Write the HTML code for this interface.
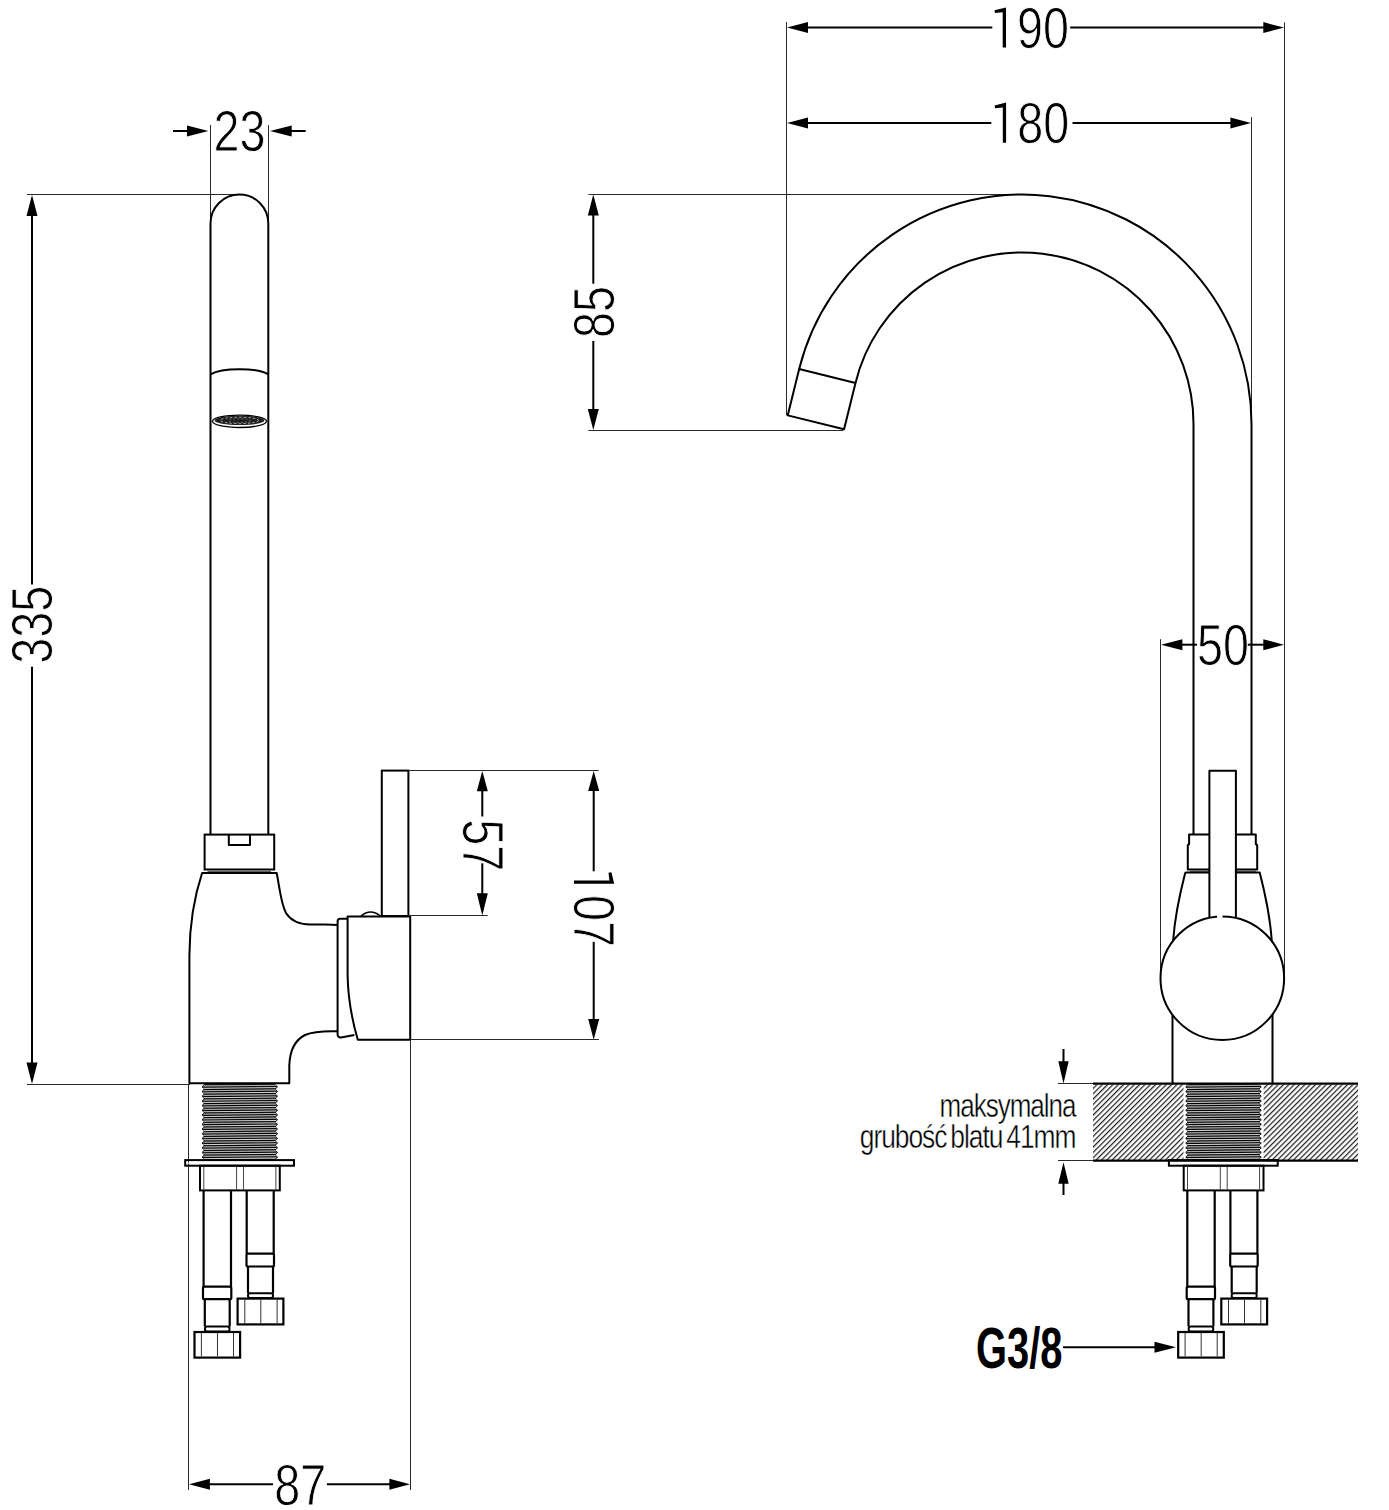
<!DOCTYPE html>
<html><head><meta charset="utf-8"><title>faucet</title>
<style>html,body{margin:0;padding:0;background:#fff;} svg{display:block;} text{font-family:"Liberation Sans", sans-serif;}</style>
</head><body>
<svg width="1389" height="1510" viewBox="0 0 1389 1510">
<rect width="1389" height="1510" fill="#fff"/>
<line x1="27.00" y1="194.50" x2="240.00" y2="194.50" stroke="#2a2a2a" stroke-width="1" />
<line x1="27.00" y1="1084.50" x2="190.00" y2="1084.50" stroke="#2a2a2a" stroke-width="1" />
<line x1="32.00" y1="215.00" x2="32.00" y2="584.60" stroke="#000" stroke-width="2" />
<line x1="32.00" y1="666.80" x2="32.00" y2="1063.00" stroke="#000" stroke-width="2" />
<path d="M32.00,195.00 L37.50,216.00 L26.50,216.00 Z" fill="#000"/>
<path d="M32.00,1084.00 L26.50,1062.50 L37.50,1062.50 Z" fill="#000"/>
<text transform="translate(52.00,624.75) rotate(-90) scale(0.82,1)" text-anchor="middle" font-size="57" font-weight="normal" stroke="#fff" stroke-width="0.9">335</text>
<line x1="210.50" y1="125.00" x2="210.50" y2="223.00" stroke="#2a2a2a" stroke-width="1" />
<line x1="268.50" y1="125.00" x2="268.50" y2="223.00" stroke="#2a2a2a" stroke-width="1" />
<line x1="173.00" y1="131.00" x2="190.00" y2="131.00" stroke="#000" stroke-width="2" />
<path d="M208.40,131.00 L187.00,136.50 L187.00,125.50 Z" fill="#000"/>
<line x1="290.00" y1="131.00" x2="305.70" y2="131.00" stroke="#000" stroke-width="2" />
<path d="M270.00,131.00 L291.70,125.50 L291.70,136.50 Z" fill="#000"/>
<text transform="translate(239.50,150.70) scale(0.82,1)" text-anchor="middle" font-size="57" font-weight="normal" stroke="#fff" stroke-width="0.9">23</text>
<path d="M210.5,835 V223.4 A28.9,28.9 0 0 1 268.3,223.4 V835" fill="none" stroke="#000" stroke-width="2" stroke-linejoin="round" />
<path d="M210.5,374.3 C222,367.4 257,367.4 268.3,374.3" fill="none" stroke="#000" stroke-width="2" stroke-linejoin="round" />
<ellipse cx="239.5" cy="421.3" rx="27" ry="6.2" fill="#fff" stroke="#000" stroke-width="1.3"/>
<ellipse cx="239.5" cy="420.4" rx="24.8" ry="4.7" fill="#1e1e1e" stroke="none"/>
<ellipse cx="239.5" cy="420.4" rx="19" ry="3.2" fill="none" stroke="#fff" stroke-width="0.6" stroke-dasharray="2.5 2"/>
<ellipse cx="239.5" cy="420.6" rx="11" ry="1.9" fill="none" stroke="#999" stroke-width="0.6" stroke-dasharray="2 2"/>
<rect x="204.60" y="834.60" width="69.60" height="34.90" rx="0" fill="none" stroke="#000" stroke-width="2"/>
<path d="M228.8,835 V845 H250 V835" fill="none" stroke="#000" stroke-width="2" stroke-linejoin="round" />
<line x1="207.50" y1="871.40" x2="271.00" y2="871.40" stroke="#000" stroke-width="0.7" />
<line x1="206.00" y1="869.40" x2="272.50" y2="869.40" stroke="#000" stroke-width="0.01" />
<path d="M337,925 C330,924 322,924.7 310,924.5 C298,924.3 291,921 286,913 C281,904 280,890 276.7,873 H202.1 C195.5,893 189.6,922 189.4,955 V1083.3 H289.3 V1065 C290,1050 295,1040 305,1035 C313,1031.5 325,1031 337,1031.3" fill="none" stroke="#000" stroke-width="2" stroke-linejoin="round" />
<path d="M347,918.7 H340 Q337.6,918.7 337.6,921.5 V1034.5 Q337.6,1037.6 341,1037.4 L354.4,1035" fill="none" stroke="#000" stroke-width="2" stroke-linejoin="round" />
<path d="M347.6,916.4 H410.2 V1039.8 H357.8 C352,1020 348,1000 347.6,975 Z" fill="none" stroke="#000" stroke-width="2" stroke-linejoin="round" />
<path d="M361,916 Q370.5,908 380.4,916" fill="none" stroke="#000" stroke-width="1.5" stroke-linejoin="round" />
<rect x="381.80" y="770.60" width="26.60" height="145.40" rx="0" fill="none" stroke="#000" stroke-width="2"/>
<line x1="408.40" y1="770.50" x2="598.70" y2="770.50" stroke="#2a2a2a" stroke-width="1" />
<line x1="408.40" y1="915.50" x2="487.60" y2="915.50" stroke="#2a2a2a" stroke-width="1" />
<line x1="410.20" y1="1039.50" x2="599.00" y2="1039.50" stroke="#2a2a2a" stroke-width="1" />
<line x1="482.30" y1="790.00" x2="482.30" y2="816.50" stroke="#000" stroke-width="2" />
<line x1="482.30" y1="863.30" x2="482.30" y2="894.00" stroke="#000" stroke-width="2" />
<path d="M482.30,771.00 L487.80,791.20 L476.80,791.20 Z" fill="#000"/>
<path d="M482.30,915.50 L476.80,893.20 L487.80,893.20 Z" fill="#000"/>
<text transform="translate(462.70,845.20) rotate(90) scale(0.82,1)" text-anchor="middle" font-size="57" font-weight="normal" stroke="#fff" stroke-width="0.9">57</text>
<line x1="593.70" y1="790.00" x2="593.70" y2="871.30" stroke="#000" stroke-width="2" />
<line x1="593.70" y1="941.80" x2="593.70" y2="1020.00" stroke="#000" stroke-width="2" />
<path d="M593.70,771.00 L599.20,791.00 L588.20,791.00 Z" fill="#000"/>
<path d="M593.70,1039.80 L588.20,1019.00 L599.20,1019.00 Z" fill="#000"/>
<g transform="translate(574.00,872.30) rotate(90)"><path d="M0,-37.4 L11.5,-40.2 V0 H8.2 V-35.4 L0.5,-34.5 Z" fill="#000"/><text transform="translate(22.6,0) scale(0.82,1)" font-size="57" stroke="#fff" stroke-width="0.9">07</text></g>
<line x1="188.50" y1="1084.00" x2="188.50" y2="1490.00" stroke="#2a2a2a" stroke-width="1" />
<line x1="410.50" y1="1039.80" x2="410.50" y2="1490.00" stroke="#2a2a2a" stroke-width="1" />
<line x1="208.00" y1="1484.30" x2="273.00" y2="1484.30" stroke="#000" stroke-width="2" />
<line x1="326.90" y1="1484.30" x2="391.00" y2="1484.30" stroke="#000" stroke-width="2" />
<path d="M189.00,1484.30 L209.90,1478.80 L209.90,1489.80 Z" fill="#000"/>
<path d="M410.00,1484.30 L389.40,1489.80 L389.40,1478.80 Z" fill="#000"/>
<text transform="translate(300.25,1504.50) scale(0.82,1)" text-anchor="middle" font-size="57" font-weight="normal" stroke="#fff" stroke-width="0.9">87</text>
<polygon points="204.60,1084.50 202.00,1086.84 204.60,1089.19 202.00,1091.53 204.60,1093.88 202.00,1096.22 204.60,1098.56 202.00,1100.91 204.60,1103.25 202.00,1105.59 204.60,1107.94 202.00,1110.28 204.60,1112.62 202.00,1114.97 204.60,1117.31 202.00,1119.66 204.60,1122.00 202.00,1124.34 204.60,1126.69 202.00,1129.03 204.60,1131.38 202.00,1133.72 204.60,1136.06 202.00,1138.41 204.60,1140.75 202.00,1143.09 204.60,1145.44 202.00,1147.78 204.60,1150.12 202.00,1152.47 204.60,1154.81 202.00,1157.16 204.60,1159.50 275.00,1159.50 277.60,1157.16 275.00,1154.81 277.60,1152.47 275.00,1150.12 277.60,1147.78 275.00,1145.44 277.60,1143.09 275.00,1140.75 277.60,1138.41 275.00,1136.06 277.60,1133.72 275.00,1131.38 277.60,1129.03 275.00,1126.69 277.60,1124.34 275.00,1122.00 277.60,1119.66 275.00,1117.31 277.60,1114.97 275.00,1112.62 277.60,1110.28 275.00,1107.94 277.60,1105.59 275.00,1103.25 277.60,1100.91 275.00,1098.56 277.60,1096.22 275.00,1093.88 277.60,1091.53 275.00,1089.19 277.60,1086.84 275.00,1084.50" fill="#5c5c5c" stroke="#000" stroke-width="0.9"/>
<line x1="203.50" y1="1087.19" x2="276.10" y2="1086.49" stroke="#000" stroke-width="1.15"/>
<line x1="203.50" y1="1088.37" x2="276.10" y2="1087.67" stroke="#f4f4f4" stroke-width="0.8"/>
<line x1="203.50" y1="1086.02" x2="276.10" y2="1085.32" stroke="#d8d8d8" stroke-width="0.7"/>
<line x1="203.50" y1="1091.88" x2="276.10" y2="1091.18" stroke="#000" stroke-width="1.15"/>
<line x1="203.50" y1="1093.05" x2="276.10" y2="1092.35" stroke="#f4f4f4" stroke-width="0.8"/>
<line x1="203.50" y1="1089.54" x2="276.10" y2="1088.84" stroke="#000" stroke-width="1.0"/>
<line x1="203.50" y1="1090.71" x2="276.10" y2="1090.01" stroke="#d8d8d8" stroke-width="0.7"/>
<line x1="203.50" y1="1096.57" x2="276.10" y2="1095.87" stroke="#000" stroke-width="1.15"/>
<line x1="203.50" y1="1097.74" x2="276.10" y2="1097.04" stroke="#f4f4f4" stroke-width="0.8"/>
<line x1="203.50" y1="1094.22" x2="276.10" y2="1093.53" stroke="#000" stroke-width="1.0"/>
<line x1="203.50" y1="1095.40" x2="276.10" y2="1094.70" stroke="#d8d8d8" stroke-width="0.7"/>
<line x1="203.50" y1="1101.26" x2="276.10" y2="1100.56" stroke="#000" stroke-width="1.15"/>
<line x1="203.50" y1="1102.43" x2="276.10" y2="1101.73" stroke="#f4f4f4" stroke-width="0.8"/>
<line x1="203.50" y1="1098.91" x2="276.10" y2="1098.21" stroke="#000" stroke-width="1.0"/>
<line x1="203.50" y1="1100.08" x2="276.10" y2="1099.38" stroke="#d8d8d8" stroke-width="0.7"/>
<line x1="203.50" y1="1105.94" x2="276.10" y2="1105.24" stroke="#000" stroke-width="1.15"/>
<line x1="203.50" y1="1107.12" x2="276.10" y2="1106.42" stroke="#f4f4f4" stroke-width="0.8"/>
<line x1="203.50" y1="1103.60" x2="276.10" y2="1102.90" stroke="#000" stroke-width="1.0"/>
<line x1="203.50" y1="1104.77" x2="276.10" y2="1104.07" stroke="#d8d8d8" stroke-width="0.7"/>
<line x1="203.50" y1="1110.63" x2="276.10" y2="1109.93" stroke="#000" stroke-width="1.15"/>
<line x1="203.50" y1="1111.80" x2="276.10" y2="1111.10" stroke="#f4f4f4" stroke-width="0.8"/>
<line x1="203.50" y1="1108.29" x2="276.10" y2="1107.59" stroke="#000" stroke-width="1.0"/>
<line x1="203.50" y1="1109.46" x2="276.10" y2="1108.76" stroke="#d8d8d8" stroke-width="0.7"/>
<line x1="203.50" y1="1115.32" x2="276.10" y2="1114.62" stroke="#000" stroke-width="1.15"/>
<line x1="203.50" y1="1116.49" x2="276.10" y2="1115.79" stroke="#f4f4f4" stroke-width="0.8"/>
<line x1="203.50" y1="1112.97" x2="276.10" y2="1112.28" stroke="#000" stroke-width="1.0"/>
<line x1="203.50" y1="1114.15" x2="276.10" y2="1113.45" stroke="#d8d8d8" stroke-width="0.7"/>
<line x1="203.50" y1="1120.01" x2="276.10" y2="1119.31" stroke="#000" stroke-width="1.15"/>
<line x1="203.50" y1="1121.18" x2="276.10" y2="1120.48" stroke="#f4f4f4" stroke-width="0.8"/>
<line x1="203.50" y1="1117.66" x2="276.10" y2="1116.96" stroke="#000" stroke-width="1.0"/>
<line x1="203.50" y1="1118.83" x2="276.10" y2="1118.13" stroke="#d8d8d8" stroke-width="0.7"/>
<line x1="203.50" y1="1124.69" x2="276.10" y2="1123.99" stroke="#000" stroke-width="1.15"/>
<line x1="203.50" y1="1125.87" x2="276.10" y2="1125.17" stroke="#f4f4f4" stroke-width="0.8"/>
<line x1="203.50" y1="1122.35" x2="276.10" y2="1121.65" stroke="#000" stroke-width="1.0"/>
<line x1="203.50" y1="1123.52" x2="276.10" y2="1122.82" stroke="#d8d8d8" stroke-width="0.7"/>
<line x1="203.50" y1="1129.38" x2="276.10" y2="1128.68" stroke="#000" stroke-width="1.15"/>
<line x1="203.50" y1="1130.55" x2="276.10" y2="1129.85" stroke="#f4f4f4" stroke-width="0.8"/>
<line x1="203.50" y1="1127.04" x2="276.10" y2="1126.34" stroke="#000" stroke-width="1.0"/>
<line x1="203.50" y1="1128.21" x2="276.10" y2="1127.51" stroke="#d8d8d8" stroke-width="0.7"/>
<line x1="203.50" y1="1134.07" x2="276.10" y2="1133.37" stroke="#000" stroke-width="1.15"/>
<line x1="203.50" y1="1135.24" x2="276.10" y2="1134.54" stroke="#f4f4f4" stroke-width="0.8"/>
<line x1="203.50" y1="1131.72" x2="276.10" y2="1131.03" stroke="#000" stroke-width="1.0"/>
<line x1="203.50" y1="1132.90" x2="276.10" y2="1132.20" stroke="#d8d8d8" stroke-width="0.7"/>
<line x1="203.50" y1="1138.76" x2="276.10" y2="1138.06" stroke="#000" stroke-width="1.15"/>
<line x1="203.50" y1="1139.93" x2="276.10" y2="1139.23" stroke="#f4f4f4" stroke-width="0.8"/>
<line x1="203.50" y1="1136.41" x2="276.10" y2="1135.71" stroke="#000" stroke-width="1.0"/>
<line x1="203.50" y1="1137.58" x2="276.10" y2="1136.88" stroke="#d8d8d8" stroke-width="0.7"/>
<line x1="203.50" y1="1143.44" x2="276.10" y2="1142.74" stroke="#000" stroke-width="1.15"/>
<line x1="203.50" y1="1144.62" x2="276.10" y2="1143.92" stroke="#f4f4f4" stroke-width="0.8"/>
<line x1="203.50" y1="1141.10" x2="276.10" y2="1140.40" stroke="#000" stroke-width="1.0"/>
<line x1="203.50" y1="1142.27" x2="276.10" y2="1141.57" stroke="#d8d8d8" stroke-width="0.7"/>
<line x1="203.50" y1="1148.13" x2="276.10" y2="1147.43" stroke="#000" stroke-width="1.15"/>
<line x1="203.50" y1="1149.30" x2="276.10" y2="1148.60" stroke="#f4f4f4" stroke-width="0.8"/>
<line x1="203.50" y1="1145.79" x2="276.10" y2="1145.09" stroke="#000" stroke-width="1.0"/>
<line x1="203.50" y1="1146.96" x2="276.10" y2="1146.26" stroke="#d8d8d8" stroke-width="0.7"/>
<line x1="203.50" y1="1152.82" x2="276.10" y2="1152.12" stroke="#000" stroke-width="1.15"/>
<line x1="203.50" y1="1153.99" x2="276.10" y2="1153.29" stroke="#f4f4f4" stroke-width="0.8"/>
<line x1="203.50" y1="1150.47" x2="276.10" y2="1149.78" stroke="#000" stroke-width="1.0"/>
<line x1="203.50" y1="1151.65" x2="276.10" y2="1150.95" stroke="#d8d8d8" stroke-width="0.7"/>
<line x1="203.50" y1="1157.51" x2="276.10" y2="1156.81" stroke="#000" stroke-width="1.15"/>
<line x1="203.50" y1="1158.68" x2="276.10" y2="1157.98" stroke="#f4f4f4" stroke-width="0.8"/>
<line x1="203.50" y1="1155.16" x2="276.10" y2="1154.46" stroke="#000" stroke-width="1.0"/>
<line x1="203.50" y1="1156.33" x2="276.10" y2="1155.63" stroke="#d8d8d8" stroke-width="0.7"/>
<rect x="185.20" y="1160.10" width="108.80" height="5.60" rx="0" fill="none" stroke="#000" stroke-width="2"/>
<line x1="187.50" y1="1163.00" x2="291.50" y2="1163.00" stroke="#fff" stroke-width="1.2" />
<rect x="200.00" y="1165.70" width="79.80" height="24.70" rx="0" fill="none" stroke="#000" stroke-width="2"/>
<line x1="203.80" y1="1166.50" x2="203.80" y2="1189.50" stroke="#444" stroke-width="1" />
<line x1="236.60" y1="1166.50" x2="236.60" y2="1189.50" stroke="#444" stroke-width="1" />
<line x1="243.50" y1="1166.50" x2="243.50" y2="1189.50" stroke="#444" stroke-width="1" />
<line x1="275.90" y1="1166.50" x2="275.90" y2="1189.50" stroke="#444" stroke-width="1" />
<line x1="203.60" y1="1190.00" x2="203.60" y2="1287.00" stroke="#000" stroke-width="2.2" />
<line x1="231.00" y1="1190.00" x2="231.00" y2="1287.00" stroke="#000" stroke-width="2.2" />
<rect x="203.00" y="1286.70" width="28.30" height="12.50" rx="1.5" fill="none" stroke="#000" stroke-width="2.2"/>
<line x1="204.80" y1="1299.00" x2="204.80" y2="1326.50" stroke="#000" stroke-width="2.2" />
<line x1="229.70" y1="1299.00" x2="229.70" y2="1326.50" stroke="#000" stroke-width="2.2" />
<rect x="205.00" y="1326.50" width="24.50" height="5.00" rx="2" fill="none" stroke="#000" stroke-width="2"/>
<rect x="194.50" y="1332.00" width="45.60" height="25.60" rx="0" fill="none" stroke="#000" stroke-width="2.2"/>
<line x1="201.40" y1="1333.00" x2="201.40" y2="1356.50" stroke="#333" stroke-width="1" />
<line x1="217.50" y1="1333.00" x2="217.50" y2="1356.50" stroke="#333" stroke-width="1" />
<line x1="233.50" y1="1333.00" x2="233.50" y2="1356.50" stroke="#333" stroke-width="1" />
<line x1="246.70" y1="1190.00" x2="246.70" y2="1254.00" stroke="#000" stroke-width="2.2" />
<line x1="273.70" y1="1190.00" x2="273.70" y2="1254.00" stroke="#000" stroke-width="2.2" />
<rect x="246.50" y="1253.60" width="27.50" height="12.90" rx="1.5" fill="none" stroke="#000" stroke-width="2.2"/>
<line x1="248.00" y1="1266.00" x2="248.00" y2="1293.20" stroke="#000" stroke-width="2.2" />
<line x1="273.00" y1="1266.00" x2="273.00" y2="1293.20" stroke="#000" stroke-width="2.2" />
<rect x="248.00" y="1293.20" width="25.00" height="4.80" rx="2" fill="none" stroke="#000" stroke-width="2"/>
<rect x="237.60" y="1298.60" width="45.80" height="25.80" rx="0" fill="none" stroke="#000" stroke-width="2.2"/>
<line x1="244.80" y1="1299.50" x2="244.80" y2="1323.50" stroke="#333" stroke-width="1" />
<line x1="260.80" y1="1299.50" x2="260.80" y2="1323.50" stroke="#333" stroke-width="1" />
<line x1="277.10" y1="1299.50" x2="277.10" y2="1323.50" stroke="#333" stroke-width="1" />
<line x1="786.50" y1="22.00" x2="786.50" y2="415.40" stroke="#2a2a2a" stroke-width="1" />
<line x1="1284.50" y1="22.30" x2="1284.50" y2="975.00" stroke="#2a2a2a" stroke-width="1" />
<line x1="806.00" y1="27.60" x2="992.30" y2="27.60" stroke="#000" stroke-width="2" />
<line x1="1070.20" y1="27.60" x2="1265.00" y2="27.60" stroke="#000" stroke-width="2" />
<path d="M787.00,27.60 L808.00,22.10 L808.00,33.10 Z" fill="#000"/>
<path d="M1284.00,27.60 L1263.30,33.10 L1263.30,22.10 Z" fill="#000"/>
<g transform="translate(994.50,47.60)"><path d="M0,-37.4 L11.5,-40.2 V0 H8.2 V-35.4 L0.5,-34.5 Z" fill="#000"/><text transform="translate(22.6,0) scale(0.82,1)" font-size="57" stroke="#fff" stroke-width="0.9">90</text></g>
<line x1="1251.50" y1="117.00" x2="1251.50" y2="424.00" stroke="#2a2a2a" stroke-width="1" />
<line x1="806.00" y1="122.90" x2="991.30" y2="122.90" stroke="#000" stroke-width="2" />
<line x1="1072.50" y1="122.90" x2="1232.00" y2="122.90" stroke="#000" stroke-width="2" />
<path d="M787.00,122.90 L808.00,117.40 L808.00,128.40 Z" fill="#000"/>
<path d="M1251.00,122.90 L1230.40,128.40 L1230.40,117.40 Z" fill="#000"/>
<g transform="translate(994.60,142.80)"><path d="M0,-37.4 L11.5,-40.2 V0 H8.2 V-35.4 L0.5,-34.5 Z" fill="#000"/><text transform="translate(22.6,0) scale(0.82,1)" font-size="57" stroke="#fff" stroke-width="0.9">80</text></g>
<line x1="588.40" y1="194.50" x2="1011.00" y2="194.50" stroke="#2a2a2a" stroke-width="1" />
<line x1="588.40" y1="430.50" x2="843.20" y2="430.50" stroke="#2a2a2a" stroke-width="1" />
<line x1="593.30" y1="214.00" x2="593.30" y2="283.70" stroke="#000" stroke-width="2" />
<line x1="593.30" y1="340.90" x2="593.30" y2="411.00" stroke="#000" stroke-width="2" />
<path d="M593.30,194.50 L598.80,215.50 L587.80,215.50 Z" fill="#000"/>
<path d="M593.30,430.00 L587.80,409.00 L598.80,409.00 Z" fill="#000"/>
<text transform="translate(614.30,312.00) rotate(-90) scale(0.82,1)" text-anchor="middle" font-size="57" font-weight="normal" stroke="#fff" stroke-width="0.9">85</text>
<path d="M799.18,369.04 A229.5,229.5 0 0 1 1251.50,424 V834.5" fill="none" stroke="#000" stroke-width="2" stroke-linejoin="round" />
<path d="M855.49,382.93 A171.5,171.5 0 0 1 1193.50,424 V834.5" fill="none" stroke="#000" stroke-width="2" stroke-linejoin="round" />
<path d="M799.18,369.04 L787.75,415.36 L844.07,429.24 L855.49,382.93 Z" fill="none" stroke="#000" stroke-width="2" stroke-linejoin="round" />
<line x1="1160.50" y1="639.20" x2="1160.50" y2="975.00" stroke="#2a2a2a" stroke-width="1" />
<line x1="1180.00" y1="644.70" x2="1197.00" y2="644.70" stroke="#000" stroke-width="2" />
<line x1="1247.70" y1="644.70" x2="1265.00" y2="644.70" stroke="#000" stroke-width="2" />
<path d="M1161.00,644.70 L1182.40,639.20 L1182.40,650.20 Z" fill="#000"/>
<path d="M1284.00,644.70 L1263.30,650.20 L1263.30,639.20 Z" fill="#000"/>
<text transform="translate(1223.00,664.70) scale(0.82,1)" text-anchor="middle" font-size="57" font-weight="normal" stroke="#fff" stroke-width="0.9">50</text>
<path d="M1189.1,834.5 H1255.8 V844.2 Q1257.2,844.2 1257.2,846 V869.6 H1187.8 V846 Q1187.8,844.2 1189.1,844.2 Z" fill="none" stroke="#000" stroke-width="2" stroke-linejoin="round" />
<line x1="1190.00" y1="871.30" x2="1256.00" y2="871.30" stroke="#000" stroke-width="0.7" />
<path d="M1185.3,872.6 H1259.7 C1265,893 1270,915 1271.8,941 M1185.3,872.6 C1180,893 1175,915 1173.1,941" fill="none" stroke="#000" stroke-width="2" stroke-linejoin="round" />
<path d="M1172.5,1014 V1083 M1272.5,1014 V1083" fill="none" stroke="#000" stroke-width="2" stroke-linejoin="round" />
<rect x="1209.4" y="770.8" width="26.5" height="146" fill="#fff" stroke="none"/>
<path d="M1209.4,917 V770.8 H1235.9 V917" fill="none" stroke="#000" stroke-width="2" stroke-linejoin="round" />
<circle cx="1222.3" cy="978.2" r="61.8" fill="#fff" stroke="#000" stroke-width="2"/>
<line x1="1217.00" y1="916.40" x2="1222.50" y2="916.40" stroke="#fff" stroke-width="3" />
<line x1="1057.90" y1="1083.50" x2="1093.00" y2="1083.50" stroke="#2a2a2a" stroke-width="1" />
<line x1="1057.90" y1="1160.50" x2="1093.00" y2="1160.50" stroke="#2a2a2a" stroke-width="1" />
<defs><pattern id="hatch" width="3.77" height="3.77" patternUnits="userSpaceOnUse" patternTransform="rotate(45)"><rect width="1.25" height="3.77" fill="#222"/></pattern></defs>
<rect x="1093" y="1084.5" width="90.5" height="75.5" fill="url(#hatch)"/>
<rect x="1263.6" y="1084.5" width="94.4" height="75.5" fill="url(#hatch)"/>
<line x1="1093.00" y1="1083.60" x2="1358.00" y2="1083.60" stroke="#000" stroke-width="2.2" />
<line x1="1093.00" y1="1160.60" x2="1358.00" y2="1160.60" stroke="#000" stroke-width="2.2" />
<polygon points="1188.30,1084.50 1185.70,1086.84 1188.30,1089.19 1185.70,1091.53 1188.30,1093.88 1185.70,1096.22 1188.30,1098.56 1185.70,1100.91 1188.30,1103.25 1185.70,1105.59 1188.30,1107.94 1185.70,1110.28 1188.30,1112.62 1185.70,1114.97 1188.30,1117.31 1185.70,1119.66 1188.30,1122.00 1185.70,1124.34 1188.30,1126.69 1185.70,1129.03 1188.30,1131.38 1185.70,1133.72 1188.30,1136.06 1185.70,1138.41 1188.30,1140.75 1185.70,1143.09 1188.30,1145.44 1185.70,1147.78 1188.30,1150.12 1185.70,1152.47 1188.30,1154.81 1185.70,1157.16 1188.30,1159.50 1258.70,1159.50 1261.30,1157.16 1258.70,1154.81 1261.30,1152.47 1258.70,1150.12 1261.30,1147.78 1258.70,1145.44 1261.30,1143.09 1258.70,1140.75 1261.30,1138.41 1258.70,1136.06 1261.30,1133.72 1258.70,1131.38 1261.30,1129.03 1258.70,1126.69 1261.30,1124.34 1258.70,1122.00 1261.30,1119.66 1258.70,1117.31 1261.30,1114.97 1258.70,1112.62 1261.30,1110.28 1258.70,1107.94 1261.30,1105.59 1258.70,1103.25 1261.30,1100.91 1258.70,1098.56 1261.30,1096.22 1258.70,1093.88 1261.30,1091.53 1258.70,1089.19 1261.30,1086.84 1258.70,1084.50" fill="#5c5c5c" stroke="#000" stroke-width="0.9"/>
<line x1="1187.20" y1="1087.19" x2="1259.80" y2="1086.49" stroke="#000" stroke-width="1.15"/>
<line x1="1187.20" y1="1088.37" x2="1259.80" y2="1087.67" stroke="#f4f4f4" stroke-width="0.8"/>
<line x1="1187.20" y1="1086.02" x2="1259.80" y2="1085.32" stroke="#d8d8d8" stroke-width="0.7"/>
<line x1="1187.20" y1="1091.88" x2="1259.80" y2="1091.18" stroke="#000" stroke-width="1.15"/>
<line x1="1187.20" y1="1093.05" x2="1259.80" y2="1092.35" stroke="#f4f4f4" stroke-width="0.8"/>
<line x1="1187.20" y1="1089.54" x2="1259.80" y2="1088.84" stroke="#000" stroke-width="1.0"/>
<line x1="1187.20" y1="1090.71" x2="1259.80" y2="1090.01" stroke="#d8d8d8" stroke-width="0.7"/>
<line x1="1187.20" y1="1096.57" x2="1259.80" y2="1095.87" stroke="#000" stroke-width="1.15"/>
<line x1="1187.20" y1="1097.74" x2="1259.80" y2="1097.04" stroke="#f4f4f4" stroke-width="0.8"/>
<line x1="1187.20" y1="1094.22" x2="1259.80" y2="1093.53" stroke="#000" stroke-width="1.0"/>
<line x1="1187.20" y1="1095.40" x2="1259.80" y2="1094.70" stroke="#d8d8d8" stroke-width="0.7"/>
<line x1="1187.20" y1="1101.26" x2="1259.80" y2="1100.56" stroke="#000" stroke-width="1.15"/>
<line x1="1187.20" y1="1102.43" x2="1259.80" y2="1101.73" stroke="#f4f4f4" stroke-width="0.8"/>
<line x1="1187.20" y1="1098.91" x2="1259.80" y2="1098.21" stroke="#000" stroke-width="1.0"/>
<line x1="1187.20" y1="1100.08" x2="1259.80" y2="1099.38" stroke="#d8d8d8" stroke-width="0.7"/>
<line x1="1187.20" y1="1105.94" x2="1259.80" y2="1105.24" stroke="#000" stroke-width="1.15"/>
<line x1="1187.20" y1="1107.12" x2="1259.80" y2="1106.42" stroke="#f4f4f4" stroke-width="0.8"/>
<line x1="1187.20" y1="1103.60" x2="1259.80" y2="1102.90" stroke="#000" stroke-width="1.0"/>
<line x1="1187.20" y1="1104.77" x2="1259.80" y2="1104.07" stroke="#d8d8d8" stroke-width="0.7"/>
<line x1="1187.20" y1="1110.63" x2="1259.80" y2="1109.93" stroke="#000" stroke-width="1.15"/>
<line x1="1187.20" y1="1111.80" x2="1259.80" y2="1111.10" stroke="#f4f4f4" stroke-width="0.8"/>
<line x1="1187.20" y1="1108.29" x2="1259.80" y2="1107.59" stroke="#000" stroke-width="1.0"/>
<line x1="1187.20" y1="1109.46" x2="1259.80" y2="1108.76" stroke="#d8d8d8" stroke-width="0.7"/>
<line x1="1187.20" y1="1115.32" x2="1259.80" y2="1114.62" stroke="#000" stroke-width="1.15"/>
<line x1="1187.20" y1="1116.49" x2="1259.80" y2="1115.79" stroke="#f4f4f4" stroke-width="0.8"/>
<line x1="1187.20" y1="1112.97" x2="1259.80" y2="1112.28" stroke="#000" stroke-width="1.0"/>
<line x1="1187.20" y1="1114.15" x2="1259.80" y2="1113.45" stroke="#d8d8d8" stroke-width="0.7"/>
<line x1="1187.20" y1="1120.01" x2="1259.80" y2="1119.31" stroke="#000" stroke-width="1.15"/>
<line x1="1187.20" y1="1121.18" x2="1259.80" y2="1120.48" stroke="#f4f4f4" stroke-width="0.8"/>
<line x1="1187.20" y1="1117.66" x2="1259.80" y2="1116.96" stroke="#000" stroke-width="1.0"/>
<line x1="1187.20" y1="1118.83" x2="1259.80" y2="1118.13" stroke="#d8d8d8" stroke-width="0.7"/>
<line x1="1187.20" y1="1124.69" x2="1259.80" y2="1123.99" stroke="#000" stroke-width="1.15"/>
<line x1="1187.20" y1="1125.87" x2="1259.80" y2="1125.17" stroke="#f4f4f4" stroke-width="0.8"/>
<line x1="1187.20" y1="1122.35" x2="1259.80" y2="1121.65" stroke="#000" stroke-width="1.0"/>
<line x1="1187.20" y1="1123.52" x2="1259.80" y2="1122.82" stroke="#d8d8d8" stroke-width="0.7"/>
<line x1="1187.20" y1="1129.38" x2="1259.80" y2="1128.68" stroke="#000" stroke-width="1.15"/>
<line x1="1187.20" y1="1130.55" x2="1259.80" y2="1129.85" stroke="#f4f4f4" stroke-width="0.8"/>
<line x1="1187.20" y1="1127.04" x2="1259.80" y2="1126.34" stroke="#000" stroke-width="1.0"/>
<line x1="1187.20" y1="1128.21" x2="1259.80" y2="1127.51" stroke="#d8d8d8" stroke-width="0.7"/>
<line x1="1187.20" y1="1134.07" x2="1259.80" y2="1133.37" stroke="#000" stroke-width="1.15"/>
<line x1="1187.20" y1="1135.24" x2="1259.80" y2="1134.54" stroke="#f4f4f4" stroke-width="0.8"/>
<line x1="1187.20" y1="1131.72" x2="1259.80" y2="1131.03" stroke="#000" stroke-width="1.0"/>
<line x1="1187.20" y1="1132.90" x2="1259.80" y2="1132.20" stroke="#d8d8d8" stroke-width="0.7"/>
<line x1="1187.20" y1="1138.76" x2="1259.80" y2="1138.06" stroke="#000" stroke-width="1.15"/>
<line x1="1187.20" y1="1139.93" x2="1259.80" y2="1139.23" stroke="#f4f4f4" stroke-width="0.8"/>
<line x1="1187.20" y1="1136.41" x2="1259.80" y2="1135.71" stroke="#000" stroke-width="1.0"/>
<line x1="1187.20" y1="1137.58" x2="1259.80" y2="1136.88" stroke="#d8d8d8" stroke-width="0.7"/>
<line x1="1187.20" y1="1143.44" x2="1259.80" y2="1142.74" stroke="#000" stroke-width="1.15"/>
<line x1="1187.20" y1="1144.62" x2="1259.80" y2="1143.92" stroke="#f4f4f4" stroke-width="0.8"/>
<line x1="1187.20" y1="1141.10" x2="1259.80" y2="1140.40" stroke="#000" stroke-width="1.0"/>
<line x1="1187.20" y1="1142.27" x2="1259.80" y2="1141.57" stroke="#d8d8d8" stroke-width="0.7"/>
<line x1="1187.20" y1="1148.13" x2="1259.80" y2="1147.43" stroke="#000" stroke-width="1.15"/>
<line x1="1187.20" y1="1149.30" x2="1259.80" y2="1148.60" stroke="#f4f4f4" stroke-width="0.8"/>
<line x1="1187.20" y1="1145.79" x2="1259.80" y2="1145.09" stroke="#000" stroke-width="1.0"/>
<line x1="1187.20" y1="1146.96" x2="1259.80" y2="1146.26" stroke="#d8d8d8" stroke-width="0.7"/>
<line x1="1187.20" y1="1152.82" x2="1259.80" y2="1152.12" stroke="#000" stroke-width="1.15"/>
<line x1="1187.20" y1="1153.99" x2="1259.80" y2="1153.29" stroke="#f4f4f4" stroke-width="0.8"/>
<line x1="1187.20" y1="1150.47" x2="1259.80" y2="1149.78" stroke="#000" stroke-width="1.0"/>
<line x1="1187.20" y1="1151.65" x2="1259.80" y2="1150.95" stroke="#d8d8d8" stroke-width="0.7"/>
<line x1="1187.20" y1="1157.51" x2="1259.80" y2="1156.81" stroke="#000" stroke-width="1.15"/>
<line x1="1187.20" y1="1158.68" x2="1259.80" y2="1157.98" stroke="#f4f4f4" stroke-width="0.8"/>
<line x1="1187.20" y1="1155.16" x2="1259.80" y2="1154.46" stroke="#000" stroke-width="1.0"/>
<line x1="1187.20" y1="1156.33" x2="1259.80" y2="1155.63" stroke="#d8d8d8" stroke-width="0.7"/>
<rect x="1168.90" y="1160.10" width="108.80" height="5.60" rx="0" fill="none" stroke="#000" stroke-width="2"/>
<line x1="1171.20" y1="1163.00" x2="1275.20" y2="1163.00" stroke="#fff" stroke-width="1.2" />
<rect x="1183.70" y="1165.70" width="79.80" height="24.70" rx="0" fill="none" stroke="#000" stroke-width="2"/>
<line x1="1187.50" y1="1166.50" x2="1187.50" y2="1189.50" stroke="#444" stroke-width="1" />
<line x1="1220.30" y1="1166.50" x2="1220.30" y2="1189.50" stroke="#444" stroke-width="1" />
<line x1="1227.20" y1="1166.50" x2="1227.20" y2="1189.50" stroke="#444" stroke-width="1" />
<line x1="1259.60" y1="1166.50" x2="1259.60" y2="1189.50" stroke="#444" stroke-width="1" />
<line x1="1187.30" y1="1190.00" x2="1187.30" y2="1287.00" stroke="#000" stroke-width="2.2" />
<line x1="1214.70" y1="1190.00" x2="1214.70" y2="1287.00" stroke="#000" stroke-width="2.2" />
<rect x="1186.70" y="1286.70" width="28.30" height="12.50" rx="1.5" fill="none" stroke="#000" stroke-width="2.2"/>
<line x1="1188.50" y1="1299.00" x2="1188.50" y2="1326.50" stroke="#000" stroke-width="2.2" />
<line x1="1213.40" y1="1299.00" x2="1213.40" y2="1326.50" stroke="#000" stroke-width="2.2" />
<rect x="1188.70" y="1326.50" width="24.50" height="5.00" rx="2" fill="none" stroke="#000" stroke-width="2"/>
<rect x="1178.20" y="1332.00" width="45.60" height="25.60" rx="0" fill="none" stroke="#000" stroke-width="2.2"/>
<line x1="1185.10" y1="1333.00" x2="1185.10" y2="1356.50" stroke="#333" stroke-width="1" />
<line x1="1201.20" y1="1333.00" x2="1201.20" y2="1356.50" stroke="#333" stroke-width="1" />
<line x1="1217.20" y1="1333.00" x2="1217.20" y2="1356.50" stroke="#333" stroke-width="1" />
<line x1="1230.40" y1="1190.00" x2="1230.40" y2="1254.00" stroke="#000" stroke-width="2.2" />
<line x1="1257.40" y1="1190.00" x2="1257.40" y2="1254.00" stroke="#000" stroke-width="2.2" />
<rect x="1230.20" y="1253.60" width="27.50" height="12.90" rx="1.5" fill="none" stroke="#000" stroke-width="2.2"/>
<line x1="1231.70" y1="1266.00" x2="1231.70" y2="1293.20" stroke="#000" stroke-width="2.2" />
<line x1="1256.70" y1="1266.00" x2="1256.70" y2="1293.20" stroke="#000" stroke-width="2.2" />
<rect x="1231.70" y="1293.20" width="25.00" height="4.80" rx="2" fill="none" stroke="#000" stroke-width="2"/>
<rect x="1221.30" y="1298.60" width="45.80" height="25.80" rx="0" fill="none" stroke="#000" stroke-width="2.2"/>
<line x1="1228.50" y1="1299.50" x2="1228.50" y2="1323.50" stroke="#333" stroke-width="1" />
<line x1="1244.50" y1="1299.50" x2="1244.50" y2="1323.50" stroke="#333" stroke-width="1" />
<line x1="1260.80" y1="1299.50" x2="1260.80" y2="1323.50" stroke="#333" stroke-width="1" />
<line x1="1063.50" y1="1049.00" x2="1063.50" y2="1063.00" stroke="#000" stroke-width="2" />
<path d="M1063.50,1083.60 L1058.30,1061.20 L1068.70,1061.20 Z" fill="#000"/>
<line x1="1063.50" y1="1182.00" x2="1063.50" y2="1195.00" stroke="#000" stroke-width="2" />
<path d="M1063.50,1162.30 L1068.70,1183.80 L1058.30,1183.80 Z" fill="#000"/>
<text transform="translate(1075.5,1117) scale(0.78,1)" text-anchor="end" font-size="33.4" letter-spacing="-1.3" stroke="#fff" stroke-width="0.45">maksymalna</text>
<text transform="translate(1075.5,1148) scale(0.79,1)" text-anchor="end" font-size="33.4" letter-spacing="-1.3" word-spacing="-3" stroke="#fff" stroke-width="0.45">grubość blatu 41mm</text>
<line x1="1063.00" y1="1347.30" x2="1156.00" y2="1347.30" stroke="#000" stroke-width="2" />
<path d="M1176.00,1347.30 L1154.50,1352.80 L1154.50,1341.80 Z" fill="#000"/>
<text transform="translate(1019.20,1367.80) scale(0.7,1)" text-anchor="middle" font-size="57" font-weight="bold">G3/8</text>
</svg>
</body></html>
